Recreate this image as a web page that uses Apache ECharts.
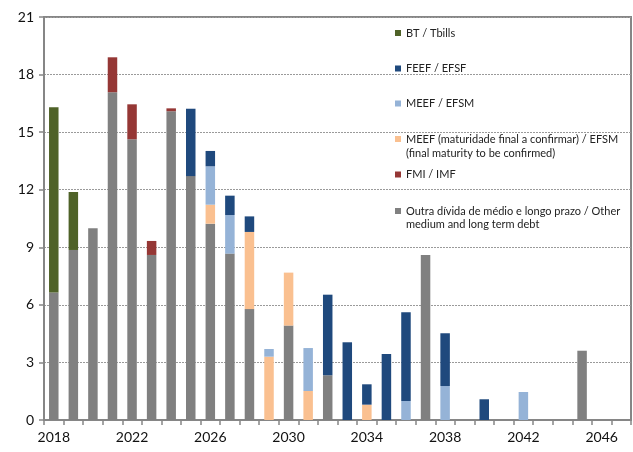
<!DOCTYPE html>
<html>
<head>
<meta charset="utf-8">
<script src="https://cdn.jsdelivr.net/npm/echarts@6/dist/echarts.min.js"></script>
<style>
html,body{margin:0;padding:0;background:#fff;}
#c{width:633px;height:452px;}
</style>
</head>
<body>
<div id="c"></div>
<script>
var years = ['2018','2019','2020','2021','2022','2023','2024','2025','2026','2027','2028','2029','2030','2031','2032','2033','2034','2035','2036','2037','2038','2039','2040','2041','2042','2043','2044','2045','2046','2047'];
var outra   = [6.65,8.86,9.99,17.08,14.63,8.6,16.09,12.71,10.23,8.67,5.78,0,4.92,0,2.33,0,0,0,0,8.6,0,0,0,0,0,0,0,3.61,0,0];
var bt      = [9.65,3.02,0,0,0,0,0,0,0,0,0,0,0,0,0,0,0,0,0,0,0,0,0,0,0,0,0,0,0,0];
var efsmTbc = [0,0,0,0,0,0,0,0,0.99,0,4.02,3.3,2.76,1.51,0,0,0.8,0,0,0,0,0,0,0,0,0,0,0,0,0];
var efsm    = [0,0,0,0,0,0,0,0,2.0,2.01,0,0.4,0,2.24,0,0,0,0,0.99,0,1.77,0,0,0,1.46,0,0,0,0,0];
var efsf    = [0,0,0,0,0,0,0,3.51,0.8,1.01,0.81,0,0,0,4.2,4.05,1.06,3.44,4.62,0,2.75,0,1.08,0,0,0,0,0,0,0];
var imf     = [0,0,0,1.82,1.82,0.73,0.15,0,0,0,0,0,0,0,0,0,0,0,0,0,0,0,0,0,0,0,0,0,0,0];

var names = {
  bt: 'BT / Tbills',
  efsf: 'FEEF / EFSF',
  efsm: 'MEEF / EFSM',
  tbc: 'MEEF (maturidade final a confirmar) / EFSM\n(final maturity to be confirmed)',
  imf: 'FMI / IMF',
  outra: 'Outra dívida de médio e longo prazo / Other\nmedium and long term debt'
};
var colors = {outra:'#808080', bt:'#4F6228', tbc:'#FAC090', efsm:'#95B3D7', efsf:'#1F497D', imf:'#953735'};

function bar(key, data){
  return {name:names[key], type:'bar', stack:'s', data:data, barWidth:9.5,
    itemStyle:{color:colors[key]}, emphasis:{disabled:true}};
}
var FONT = 'Lato';
var LEGTXT = {fontFamily:FONT, fontSize:11, color:'#222'};
function leg(key, top){
  return {data:[{name:names[key], icon:'rect'}], left:395, top:top, orient:'vertical',
    itemWidth:6, itemHeight:6, itemGap:0, selectedMode:false, padding:0,
    formatter:function(n){return n.split('\n')[0];},
    textStyle:LEGTXT};
}
function secondLine(key, y){
  return {type:'text', left:406, top:y, silent:true,
    style:{text:names[key].split('\n')[1], font:'11px ' + FONT, fill:'#222'}};
}

var chart = echarts.init(document.getElementById('c'), null, {renderer:'canvas'});
chart.setOption({
  animation:false,
  grid:{left:44, right:2, top:17, bottom:32, show:true, borderColor:'#868686', borderWidth:2},
  legend:[
    leg('bt', 27.5),
    leg('efsf', 63),
    leg('efsm', 98),
    leg('tbc', 133.5),
    leg('imf', 169),
    leg('outra', 205.5)
  ],
  graphic:[
    secondLine('tbc', 147.5),
    secondLine('outra', 218.5)
  ],
  xAxis:{type:'category', data:years, boundaryGap:true,
    axisLine:{lineStyle:{color:'#868686', width:2}},
    axisTick:{show:true, interval:0, length:5, lineStyle:{color:'#868686', width:1.5}},
    axisLabel:{interval:3, margin:10, fontFamily:FONT, fontSize:14, color:'#111'},
    splitLine:{show:false}},
  yAxis:{type:'value', min:0, max:21, interval:3,
    axisLine:{show:true, lineStyle:{color:'#868686', width:2}},
    axisTick:{show:true, length:5, lineStyle:{color:'#868686', width:1.5}},
    axisLabel:{margin:10, fontFamily:FONT, fontSize:14, color:'#111'},
    splitLine:{show:true, lineStyle:{color:'#9a9a9a', type:[2,1], width:1}}},
  series:[
    bar('outra', outra),
    bar('bt', bt),
    bar('tbc', efsmTbc),
    bar('efsm', efsm),
    bar('efsf', efsf),
    bar('imf', imf)
  ]
});
</script>
</body>
</html>
